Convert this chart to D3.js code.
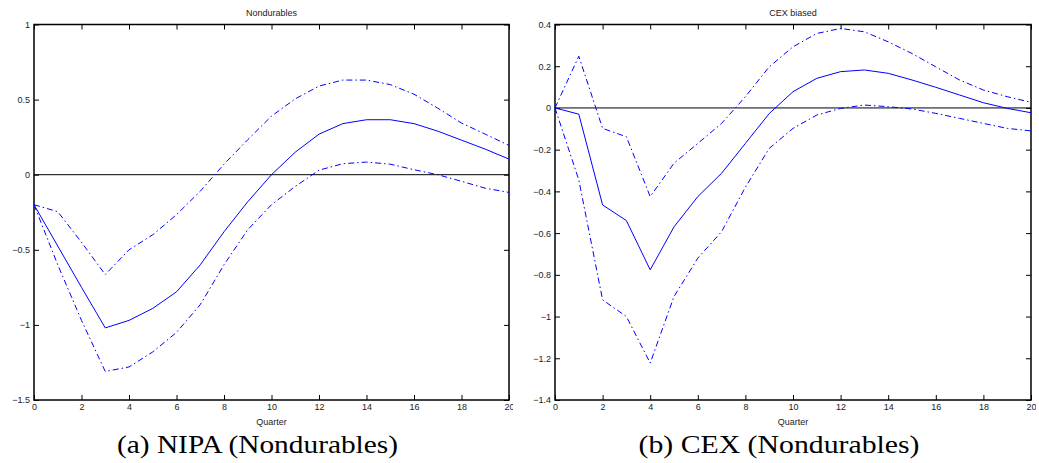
<!DOCTYPE html>
<html lang="en">
<head>
<meta charset="UTF-8"/>
<title>Nondurables impulse responses</title>
<script src="https://d3js.org/d3.v7.min.js"></script>
<style>
  body { margin: 0; background: #fff; }
  svg { display: block; }
  .tick text { font-family: "Liberation Sans", Arial, sans-serif; font-size: 9px; fill: #222; }
  .ptitle, .xlab { font-family: "Liberation Sans", Arial, sans-serif; font-size: 9px; fill: #222; text-anchor: middle; }
  .caption { font-family: "Liberation Serif", "DejaVu Serif", serif; font-size: 25px; fill: #000; text-anchor: middle; }
</style>
</head>
<body>
<svg id="chart" width="1039" height="463"></svg>
<script>
// quarters 0..20
const quarters = d3.range(0, 21);

// panel (a) NIPA
const nipaMean  = [-0.20,-0.475,-0.75,-1.02,-0.97,-0.89,-0.78,-0.60,-0.38,-0.18,0.00,0.15,0.27,0.34,0.366,0.366,0.34,0.29,0.23,0.17,0.104];
const nipaUpper = [-0.20,-0.246,-0.45,-0.665,-0.50,-0.40,-0.266,-0.11,0.07,0.233,0.39,0.505,0.59,0.63,0.63,0.60,0.536,0.443,0.344,0.27,0.195];
const nipaLower = [-0.20,-0.60,-0.97,-1.31,-1.28,-1.18,-1.05,-0.865,-0.60,-0.366,-0.20,-0.078,0.03,0.073,0.084,0.07,0.033,0.00,-0.044,-0.09,-0.118];

// panel (b) CEX
const cexMean  = [0.00,-0.03,-0.465,-0.54,-0.776,-0.57,-0.425,-0.313,-0.17,-0.027,0.078,0.142,0.174,0.182,0.166,0.134,0.099,0.062,0.025,-0.002,-0.023];
const cexUpper = [0.00,0.248,-0.098,-0.138,-0.425,-0.265,-0.17,-0.074,0.054,0.197,0.293,0.357,0.381,0.365,0.317,0.261,0.197,0.134,0.086,0.054,0.027];
const cexLower = [0.00,-0.345,-0.92,-1.00,-1.223,-0.904,-0.72,-0.593,-0.38,-0.194,-0.098,-0.034,-0.002,0.014,0.006,-0.005,-0.026,-0.05,-0.074,-0.098,-0.11];

const xTicks = d3.range(0, 21, 2);
const nipaYTicks = [1, 0.5, 0, -0.5, -1, -1.5];
const cexYTicks = [0.4, 0.2, 0, -0.2, -0.4, -0.6, -0.8, -1, -1.2, -1.4];

const panels = [
  { title: "Nondurables", caption: "(a) NIPA (Nondurables)", left: 34, right: 509, clipR: 513,
    yDomain: [-1.5, 1], yTicks: nipaYTicks, mean: nipaMean, upper: nipaUpper, lower: nipaLower },
  { title: "CEX biased", caption: "(b) CEX (Nondurables)", left: 555, right: 1031, clipR: 1036,
    yDomain: [-1.4, 0.4], yTicks: cexYTicks, mean: cexMean, upper: cexUpper, lower: cexLower }
];

const svg = d3.select("#chart");
const plotTop = 24.5, plotBottom = 400;

panels.forEach((p, i) => {
  svg.append("clipPath").attr("id", "clip" + i)
    .append("rect").attr("x", p.left - 40).attr("y", 0).attr("width", p.clipR - p.left + 40).attr("height", 463);

  const g = svg.append("g").attr("clip-path", `url(#clip${i})`);
  const x = d3.scaleLinear().domain([0, 20]).range([p.left, p.right]);
  const y = d3.scaleLinear().domain(p.yDomain).range([plotBottom, plotTop]);

  // axes: labelled bottom + left, inward ticks on all four sides
  g.append("g").attr("transform", `translate(0,${plotBottom})`)
    .call(d3.axisBottom(x).tickValues(xTicks).tickSize(-5).tickPadding(4).tickFormat(d3.format("d")));
  g.append("g").attr("transform", `translate(0,${plotTop})`)
    .call(d3.axisTop(x).tickValues(xTicks).tickSize(-5).tickFormat(""));
  g.append("g").attr("transform", `translate(${p.left},0)`)
    .call(d3.axisLeft(y).tickValues(p.yTicks).tickSize(-5).tickPadding(4).tickFormat(d3.format("")));
  g.append("g").attr("transform", `translate(${p.right},0)`)
    .call(d3.axisRight(y).tickValues(p.yTicks).tickSize(-5).tickFormat(""));
  g.selectAll(".domain").remove();
  g.selectAll(".tick line").attr("stroke", "#000").attr("stroke-width", 1);

  g.append("rect").attr("x", p.left).attr("y", plotTop)
    .attr("width", p.right - p.left).attr("height", plotBottom - plotTop)
    .attr("fill", "none").attr("stroke", "#000").attr("stroke-width", 1.5);

  // zero line
  g.append("line").attr("x1", p.left).attr("x2", p.right)
    .attr("y1", y(0)).attr("y2", y(0)).attr("stroke", "#000").attr("stroke-width", 1);

  const line = d3.line().x((d, k) => x(quarters[k])).y(d => y(d));
  [p.upper, p.lower].forEach(s => {
    g.append("path").datum(s).attr("d", line)
      .attr("fill", "none").attr("stroke", "#0000ff").attr("stroke-width", 1)
      .attr("stroke-dasharray", "6,3,1.5,3");
  });
  g.append("path").datum(p.mean).attr("d", line)
    .attr("fill", "none").attr("stroke", "#0000ff").attr("stroke-width", 1);

  const cx = (p.left + p.right) / 2;
  g.append("text").attr("class", "ptitle").attr("x", cx).attr("y", 16).text(p.title);
  g.append("text").attr("class", "xlab").attr("x", cx).attr("y", 425).text("Quarter");
  svg.append("text").attr("class", "caption").attr("x", cx - 14).attr("y", 453)
    .attr("textLength", 281).attr("lengthAdjust", "spacingAndGlyphs").text(p.caption);
});
</script>
</body>
</html>
